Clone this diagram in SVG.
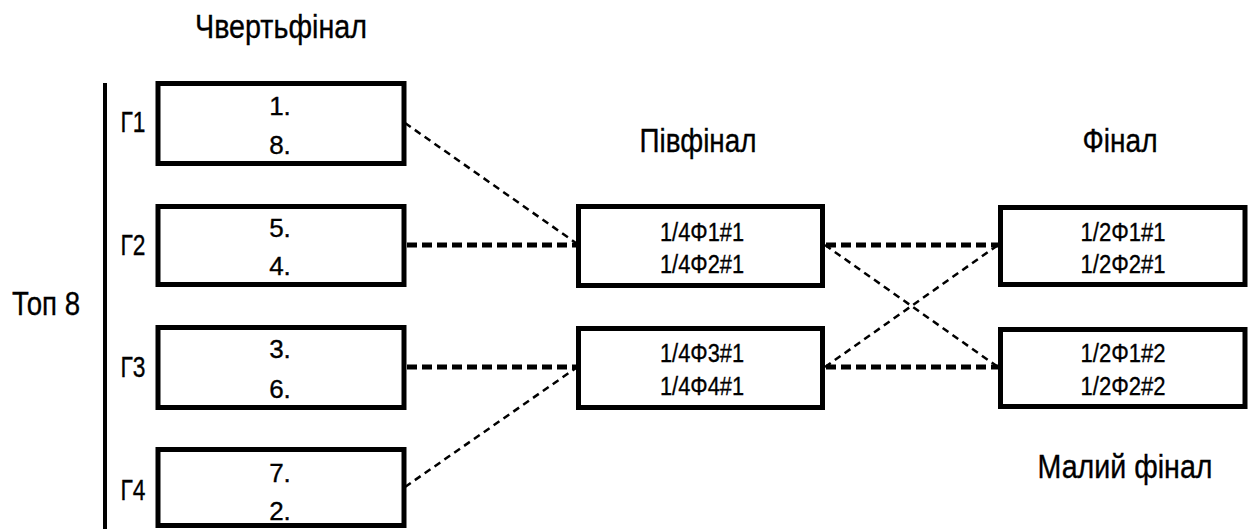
<svg xmlns="http://www.w3.org/2000/svg" width="1248" height="529" viewBox="0 0 1248 529">
<style>
.box{fill:#fff;stroke:#000;stroke-width:5}
.t{font-family:"Liberation Sans",Arial,sans-serif;fill:#000;stroke:#000;stroke-width:0.35;text-anchor:middle}
.title{font-size:34px}
.lbl{font-size:30px}
.num{font-size:26px}
.thick{stroke:#000;stroke-width:5;stroke-dasharray:10 5;fill:none}
.thin{stroke:#000;stroke-width:2.5;stroke-dasharray:7 5;fill:none}
</style>
<rect width="1248" height="529" fill="#fff"/>
<g id="titles">
<text class="t title" x="281" y="38" textLength="172" lengthAdjust="spacingAndGlyphs">Чвертьфінал</text>
<text class="t title" x="698" y="152" textLength="117" lengthAdjust="spacingAndGlyphs">Півфінал</text>
<text class="t title" x="1120" y="152" textLength="75" lengthAdjust="spacingAndGlyphs">Фінал</text>
<text class="t title" x="1125" y="478" textLength="175" lengthAdjust="spacingAndGlyphs">Малий фінал</text>
<text class="t title" x="46" y="315" textLength="68" lengthAdjust="spacingAndGlyphs">Топ 8</text>
</g>
<line id="bracket" x1="105" y1="83" x2="105" y2="529" stroke="#000" stroke-width="4"/>
<g id="connectors">
<line class="thin" x1="405" y1="123" x2="576" y2="243"/>
<line class="thick" x1="407" y1="245" x2="576" y2="245"/>
<line class="thick" x1="407" y1="367" x2="576" y2="367"/>
<line class="thin" x1="405" y1="487" x2="576" y2="368"/>
<line class="thick" x1="826" y1="245" x2="998" y2="245"/>
<line class="thick" x1="826" y1="367" x2="998" y2="367"/>
<line class="thin" x1="825" y1="245" x2="998" y2="367"/>
<line class="thin" x1="825" y1="367" x2="998" y2="245"/>
</g>
<g id="g1">
<text class="t lbl" x="133" y="132" textLength="25" lengthAdjust="spacingAndGlyphs">Г1</text>
<rect class="box" x="158" y="83.5" width="246" height="80"/>
<text class="t num" x="280" y="115">1.</text>
<text class="t num" x="280" y="154">8.</text>
</g>
<g id="g2">
<text class="t lbl" x="133" y="255" textLength="25" lengthAdjust="spacingAndGlyphs">Г2</text>
<rect class="box" x="158" y="206.5" width="246" height="78"/>
<text class="t num" x="280" y="237">5.</text>
<text class="t num" x="280" y="275">4.</text>
</g>
<g id="g3">
<text class="t lbl" x="133" y="377" textLength="25" lengthAdjust="spacingAndGlyphs">Г3</text>
<rect class="box" x="158" y="327.5" width="246" height="80"/>
<text class="t num" x="280" y="358">3.</text>
<text class="t num" x="280" y="398">6.</text>
</g>
<g id="g4">
<text class="t lbl" x="133" y="500" textLength="25" lengthAdjust="spacingAndGlyphs">Г4</text>
<rect class="box" x="158" y="449.5" width="246" height="76"/>
<text class="t num" x="280" y="482">7.</text>
<text class="t num" x="280" y="520">2.</text>
</g>
<g id="sf1">
<rect class="box" x="578.5" y="206.5" width="244" height="79"/>
<text class="t num" x="702" y="241" textLength="84" lengthAdjust="spacingAndGlyphs">1/4Φ1#1</text>
<text class="t num" x="702" y="273" textLength="84" lengthAdjust="spacingAndGlyphs">1/4Φ2#1</text>
</g>
<g id="sf2">
<rect class="box" x="578.5" y="328.5" width="244" height="79"/>
<text class="t num" x="702" y="362" textLength="84" lengthAdjust="spacingAndGlyphs">1/4Φ3#1</text>
<text class="t num" x="702" y="395" textLength="84" lengthAdjust="spacingAndGlyphs">1/4Φ4#1</text>
</g>
<g id="f1">
<rect class="box" x="1000.5" y="207.5" width="244.5" height="77"/>
<text class="t num" x="1123" y="241" textLength="85" lengthAdjust="spacingAndGlyphs">1/2Φ1#1</text>
<text class="t num" x="1123" y="273" textLength="85" lengthAdjust="spacingAndGlyphs">1/2Φ2#1</text>
</g>
<g id="f2">
<rect class="box" x="1000.5" y="329.5" width="244.5" height="77"/>
<text class="t num" x="1123" y="362" textLength="85" lengthAdjust="spacingAndGlyphs">1/2Φ1#2</text>
<text class="t num" x="1123" y="395" textLength="85" lengthAdjust="spacingAndGlyphs">1/2Φ2#2</text>
</g>
</svg>
